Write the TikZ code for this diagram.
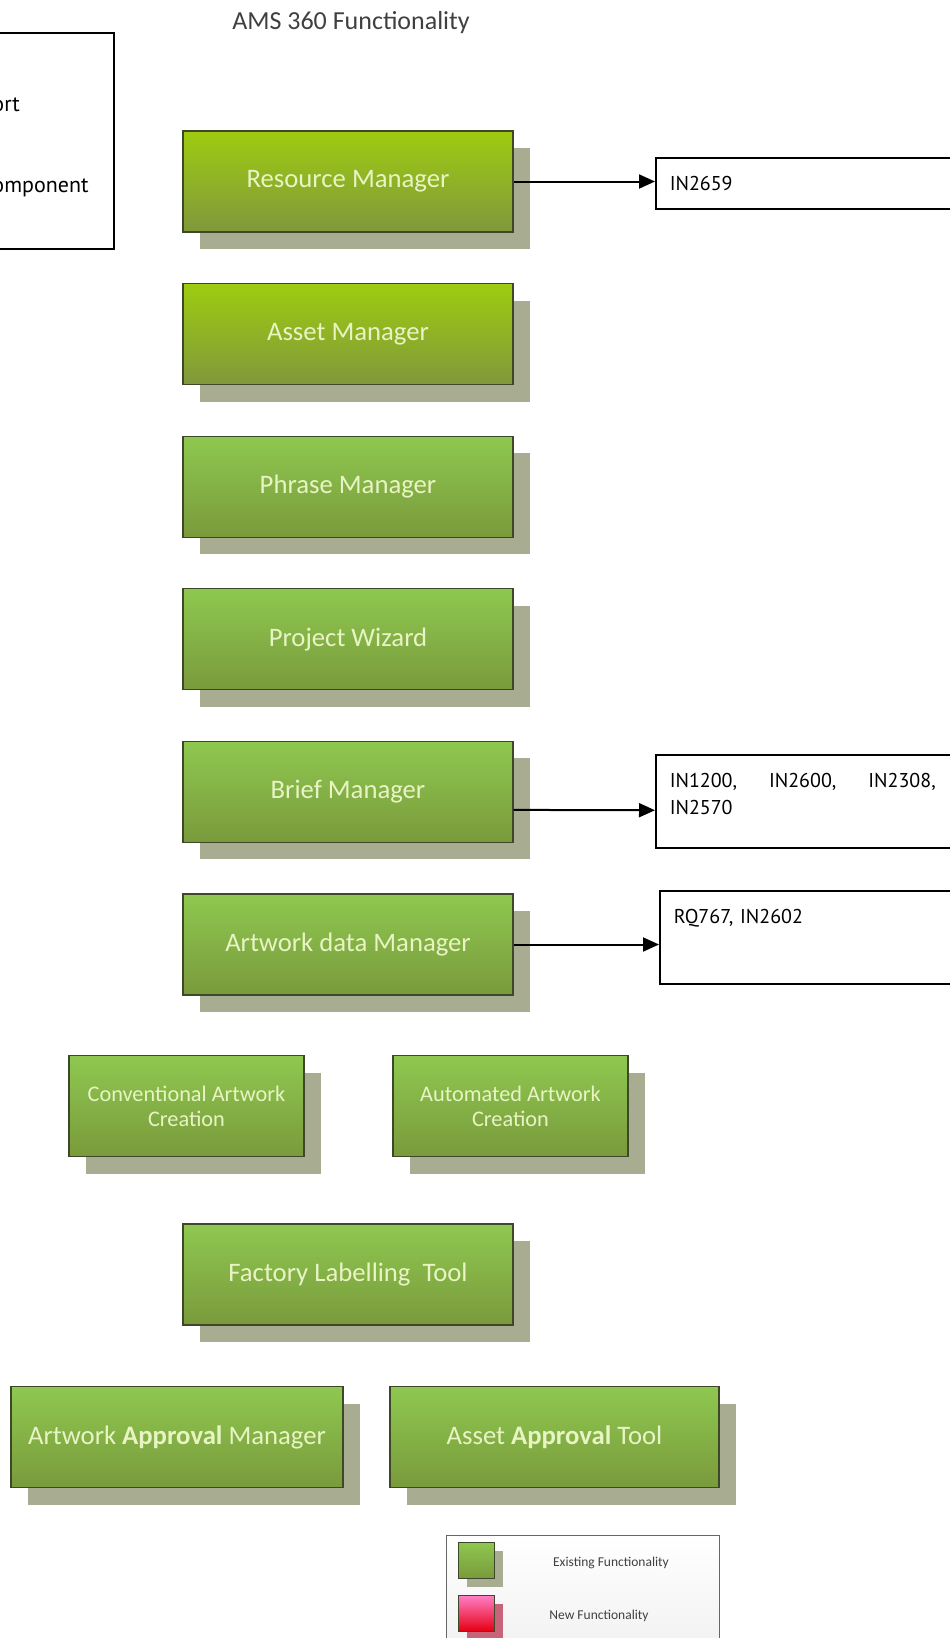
\documentclass[tikz,border=0pt]{standalone}
\usepackage{fontspec}
\setmainfont{Carlito}
\newfontfamily\notefont{PT Sans}
\usetikzlibrary{shapes.geometric, arrows.meta, shadows, positioning}

\definecolor{limetop}{RGB}{158,204,16}
\definecolor{limebot}{RGB}{128,152,60}
\definecolor{greentop}{RGB}{142,200,80}
\definecolor{greenbot}{RGB}{122,154,60}
\definecolor{boxline}{RGB}{60,72,40}
\definecolor{shadowgray}{RGB}{168,172,144}
\definecolor{labeltext}{RGB}{232,244,196}
\definecolor{titlegray}{RGB}{64,64,64}
\definecolor{pinktop}{RGB}{255,128,200}
\definecolor{pinkbot}{RGB}{230,0,20}
\definecolor{pinkshadow}{RGB}{200,100,120}

\tikzstyle{func} = [rectangle, minimum width=330pt, minimum height=101pt, text centered, draw=boxline, line width=1.2pt, top color=greentop, bottom color=greenbot, text=labeltext, font=\fontsize{26.7}{32}\selectfont, drop shadow={shadow xshift=17pt, shadow yshift=-17pt, fill=shadowgray, opacity=1}]
\tikzstyle{brightfunc} = [func, top color=limetop, bottom color=limebot]
\tikzstyle{subfunc} = [func, minimum width=235pt, align=center, font=\fontsize{22.3}{25}\selectfont]
\tikzstyle{issue} = [rectangle, draw=black, line width=1.5pt, anchor=north west, minimum width=340pt, text width=312pt, align=left, inner xsep=14pt, inner ysep=18pt, font=\notefont\fontsize{20}{27}\selectfont]
\tikzstyle{notebox} = [rectangle, draw=black, line width=1.5pt, minimum width=147pt, minimum height=216pt, align=left, font=\notefont\fontsize{22}{27}\selectfont]
\tikzstyle{swatch} = [rectangle, minimum size=36pt, draw=boxline, line width=1pt, top color=greentop, bottom color=greenbot, drop shadow={shadow xshift=9pt, shadow yshift=-9pt, fill=shadowgray, opacity=1}]
\tikzstyle{arrow} = [line width=2pt, -{Triangle[length=16pt, width=14pt]}]

\begin{document}
\begin{tikzpicture}[x=1pt, y=-1pt, node distance=152.6pt]
\useasboundingbox (0,0) rectangle (950,1638);

\node (title) [text=titlegray, font=\fontsize{26}{30}\selectfont] at (351,23) {AMS 360 Functionality};
\node (note) [notebox] at (40.5,141) {\rule{0pt}{26pt}ort\\[54pt]omponent};

\node (rm) [brightfunc] at (348,181.5) {Resource Manager};
\node (am) [brightfunc, below of=rm] {Asset Manager};
\node (pm) [func, below of=am] {Phrase Manager};
\node (pw) [func, below of=pm] {Project Wizard};
\node (bm) [func, below of=pw] {Brief Manager};
\node (adm) [func, below of=bm] {Artwork data Manager};
\node (conv) [subfunc, below of=adm, xshift=-161.5pt, yshift=-9pt] {Conventional Artwork\\Creation};
\node (auto) [subfunc, below of=adm, xshift=162.5pt, yshift=-9pt] {Automated Artwork\\Creation};
\node (flt) [func, below of=adm, yshift=-177.4pt] {Factory Labelling\ \ Tool};
\node (aam) [func, minimum width=332pt, below of=flt, xshift=-171pt, yshift=-10pt] {Artwork \textbf{Approval} Manager};
\node (aat) [func, minimum width=329pt, below of=flt, xshift=206.5pt, yshift=-10pt] {Asset \textbf{Approval} Tool};

\node (ir) [issue, minimum height=51pt, inner ysep=0pt] at (655,157) {IN2659};
\node (ib) [issue] at (655,754) {\parbox[t][57pt][t]{312pt}{\makebox[266pt]{IN1200,\hfill IN2600,\hfill IN2308,}\\IN2570}};
\node (ia) [issue] at (659,890) {\parbox[t][57pt][t]{312pt}{RQ767, IN2602}};

\node (legend) [rectangle, anchor=north west, minimum width=273pt, minimum height=130pt, draw=gray!80!black, line width=1pt, top color=white, bottom color=gray!12] at (446,1535) {};
\node (oldsw) [swatch] at (476,1560) {};
\node (newsw) [swatch, top color=pinktop, bottom color=pinkbot, drop shadow={shadow xshift=9pt, shadow yshift=-9pt, fill=pinkshadow, opacity=1}] at (476,1613) {};
\node (oldtxt) [text=titlegray, font=\fontsize{13.5}{16}\selectfont] at (611,1563) {Existing Functionality};
\node (newtxt) [text=titlegray, font=\fontsize{13.5}{16}\selectfont] at (599,1616) {New Functionality};

\draw [arrow] (rm.east) -- (rm.east -| ir.west);
\draw [arrow] ([yshift=-18pt]bm.east) -- ([yshift=-9pt]ib.west);
\draw [arrow] (adm.east) -- (adm.east -| ia.west);

\end{tikzpicture}
\end{document}
